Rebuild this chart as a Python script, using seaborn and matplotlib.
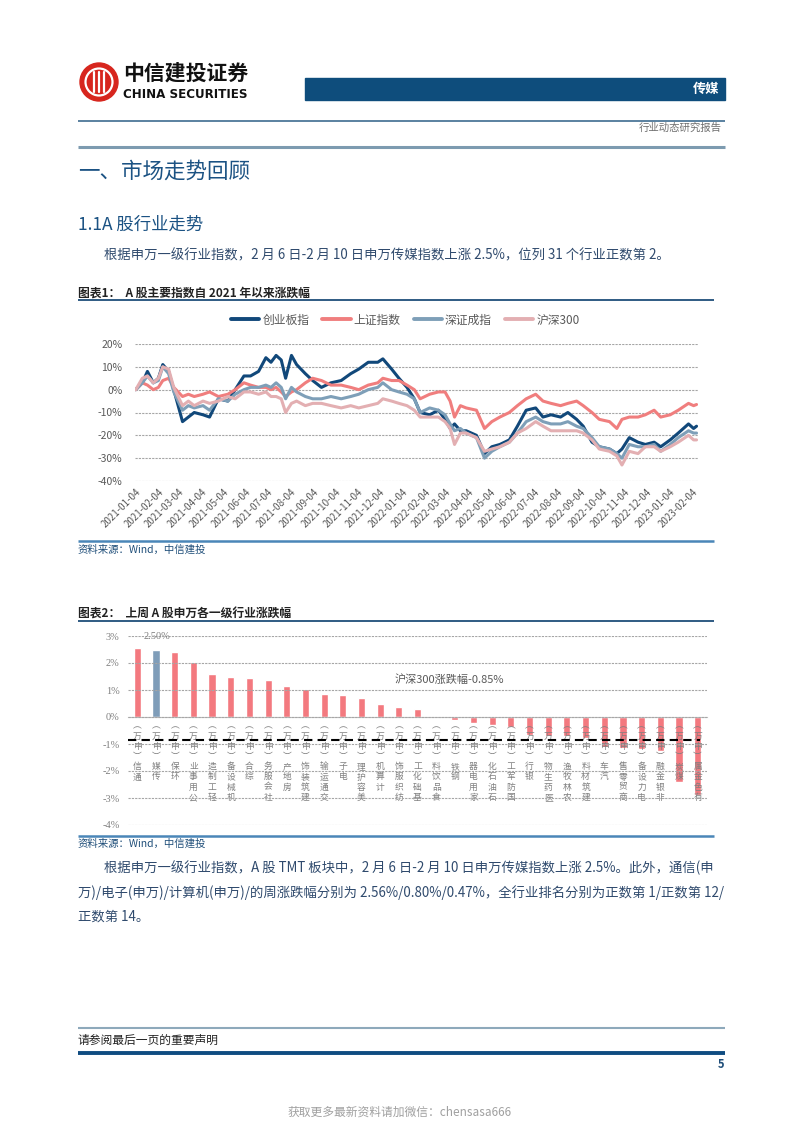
import numpy as np
import pandas as pd
import matplotlib
matplotlib.use('Agg')
import matplotlib.pyplot as plt
import matplotlib.patches as mpatches
import seaborn as sns

# ---- data: chart 1, cumulative change since 2021 (%) ----
dates = ['2021-01-04', '2021-01-13', '2021-01-20', '2021-01-28', '2021-02-04', '2021-02-10',
         '2021-02-18', '2021-02-25', '2021-03-09', '2021-03-17', '2021-03-25', '2021-04-06',
         '2021-04-15', '2021-04-27', '2021-05-10', '2021-05-20', '2021-06-01', '2021-06-10',
         '2021-06-21', '2021-07-01', '2021-07-08', '2021-07-15', '2021-07-22', '2021-07-28',
         '2021-08-05', '2021-08-12', '2021-08-24', '2021-09-03', '2021-09-15', '2021-09-28',
         '2021-10-12', '2021-10-25', '2021-11-05', '2021-11-18', '2021-12-01', '2021-12-08',
         '2021-12-20', '2021-12-30', '2022-01-10', '2022-01-20', '2022-01-28', '2022-02-10',
         '2022-02-22', '2022-03-03', '2022-03-10', '2022-03-16', '2022-03-24', '2022-04-01',
         '2022-04-15', '2022-04-26', '2022-05-06', '2022-05-17', '2022-05-30', '2022-06-10',
         '2022-06-22', '2022-07-05', '2022-07-15', '2022-07-26', '2022-08-08', '2022-08-18',
         '2022-08-30', '2022-09-08', '2022-09-20', '2022-09-30', '2022-10-14', '2022-10-24',
         '2022-10-31', '2022-11-10', '2022-11-22', '2022-12-02', '2022-12-14', '2022-12-23',
         '2023-01-05', '2023-01-16', '2023-01-30', '2023-02-06', '2023-02-10']

chinext = [0, 3, 8, 3, 5, 11, 8, 0, -14, -12, -10, -11, -12, -4, -5, 0, 6, 6, 8, 14,
           12, 15, 13, 5, 15, 11, 7, 4, 1, 3, 4, 7, 9, 12, 12, 13.5, 9, 5, 1, -4,
           -10, -11, -9, -13, -17, -15, -18, -18, -20, -28, -25, -24, -22, -16, -9, -8, -12, -11, -12, -10,
           -13, -16, -23, -25, -26, -28, -26, -21, -23, -24, -23, -25, -22, -19, -15, -17, -16]
sse = [0, 3, 2, 0, 1, 4, 5, 1, -3, -2, -3, -2, -1, -3, -2, 0, 3, 2, 1, 1,
       0, 1, -1, -3, -1, 0, 3, 5, 4, 2, 2, 1, 0, 2, 3, 5, 4, 4, 2, 0,
       -4, -2, -1, -1, -5, -12, -7, -8, -9, -17, -14, -12, -10, -7, -4, -2, -5, -6, -7, -6,
       -5, -7, -10, -13, -14, -17, -13, -12, -12, -11, -9, -12, -11, -9, -6, -7, -6.5]
szse = [0, 3, 6, 3, 4, 10, 7, -1, -9, -7, -8, -7, -9, -4, -5, -2, 0, 1, 1, 2,
        1, 3, 1, -4, 1, -1, -3, -4, -4, -3, -4, -3, -2, 0, 1, 3, 0, -1, -2, -4,
        -10, -8, -9, -11, -15, -18, -17, -19, -21, -30, -27, -25, -23, -19, -14, -12, -14, -15, -15, -14,
        -16, -17, -21, -25, -26, -28, -30, -24, -25, -25, -24, -27, -24, -21, -18, -19, -19]
csi300 = [0, 5, 6, 3, 5, 10, 9, 1, -7, -5, -7, -5, -6, -5, -3, -4, -1, -1, -2, -1,
          -3, -3, -4, -10, -6, -5, -7, -6, -6, -7, -8, -7, -8, -7, -6, -4, -5, -6, -7, -9,
          -12, -12, -12, -14, -17, -24, -19, -19, -21, -27, -26, -25, -23, -19, -17, -14, -16, -18, -18, -18,
          -18, -19, -22, -26, -27, -29, -33, -27, -28, -25, -25, -27, -25, -23, -20, -22, -22]
series_names = ['创业板指', '上证指数', '深证成指', '沪深300']
series_colors = ['#11487A', '#F07E7E', '#7E9FB8', '#E3AFB2']
month_ticks = pd.date_range('2021-01-01', '2023-02-01', freq='MS') + pd.Timedelta(days=3)
y1_ticks = [20, 10, 0, -10, -20, -30, -40]

# ---- data: chart 2, weekly change of SW level-1 industries (%) ----
industries = ['通信', '传媒', '环保', '公用事业', '轻工制造', '机械设备', '综合', '社会服务',
              '房地产', '建筑装饰', '交通运输', '电子', '美容护理', '计算机', '纺织服饰', '基础化工',
              '食品饮料', '钢铁', '家用电器', '石油石化', '国防军工', '银行', '医药生物', '农林牧渔',
              '建筑材料', '汽车', '商贸零售', '电力设备', '非银金融', '煤炭', '有色金属']
weekly_chg = [2.56, 2.50, 2.40, 2.03, 1.58, 1.47, 1.43, 1.38, 1.13, 1.05, 0.87, 0.80, 0.71,
              0.47, 0.37, 0.30, -0.03, -0.10, -0.23, -0.28, -0.38, -0.65, -0.70, -0.72, -0.78,
              -1.10, -1.15, -1.18, -1.25, -2.40, -2.90]
hs300_chg = -0.85
media_label = '2.50%'
y2_ticks = [3, 2, 1, 0, -1, -2, -3, -4]

W, H = 802, 1133
sns.set_theme(style='white')
plt.rcParams['font.family'] = ['Noto Sans CJK SC', 'DejaVu Sans']
plt.rcParams['axes.unicode_minus'] = False

fig = plt.figure(figsize=(W / 100, H / 100), dpi=100)
fig.patch.set_facecolor('white')


def px_axes(l, t, r, b):
    return fig.add_axes([l / W, 1 - b / H, (r - l) / W, (b - t) / H])


# overlay in pixel units for page decoration
page = fig.add_axes([0, 0, 1, 1])
page.set_xlim(0, W)
page.set_ylim(H, 0)
page.axis('off')


def hline(y, x0, x1, color, lw):
    page.plot([x0, x1], [y, y], color=color, lw=lw, solid_capstyle='butt')


def txt(x, y, s, **kw):
    kw.setdefault('va', 'center')
    page.text(x, y, s, **kw)


# ---- header ----
page.add_patch(mpatches.Circle((99, 82), 19, color='#D7261E'))
page.add_patch(mpatches.Circle((99, 82), 13.5, fill=False, ec='white', lw=1.6))
for dx in (-5, 0, 5):
    page.plot([99 + dx, 99 + dx], [72, 92], color='white', lw=1.6)
txt(123, 73, '中信建投证券', fontsize=15, weight='bold', color='#111111')
txt(123, 94, 'CHINA SECURITIES', fontsize=8.6, weight='bold', color='#111111',
    family=['Liberation Sans Narrow', 'DejaVu Sans'])
page.add_patch(mpatches.Rectangle((305, 78), 420, 22, color='#0E4D7C'))
txt(719, 89, '传媒', fontsize=9.5, weight='bold', color='white', ha='right')
hline(121, 78, 725, '#2E5F86', 1.1)
txt(722, 128, '行业动态研究报告', fontsize=7.5, color='#6F6F6F', ha='right')
hline(147, 78, 725, '#7D9BB0', 2.2)

# ---- section text ----
body = '#2F4A6D'
txt(78, 172, '一、市场走势回顾', fontsize=15.5, color='#1B5283')
txt(78, 225, '1.1A 股行业走势', fontsize=12.5, color='#1B5283')
txt(104, 255, '根据申万一级行业指数，2 月 6 日-2 月 10 日申万传媒指数上涨 2.5%，位列 31 个行业正数第 2。',
    fontsize=9.6, color=body)
txt(78, 293, '图表1：  A 股主要指数自 2021 年以来涨跌幅', fontsize=8.5, weight='bold', color='#222222')
hline(300, 78, 714, '#1F4E79', 1.3)

# ---- chart 1: index lines ----
ax1 = px_axes(135, 344, 698, 481)
frames = []
for name, vals in zip(series_names, [chinext, sse, szse, csi300]):
    frames.append(pd.DataFrame({'date': pd.to_datetime(dates), 'value': vals, 'series': name}))
df1 = pd.concat(frames, ignore_index=True)
sns.lineplot(data=df1, x='date', y='value', hue='series', hue_order=series_names,
             palette=series_colors, linewidth=2.2, ax=ax1)
ax1.set_ylim(-40, 20)
ax1.set_yticks(y1_ticks)
ax1.set_yticklabels([f'{v}%' for v in y1_ticks])
ax1.set_xlim(pd.Timestamp('2021-01-03'), pd.Timestamp('2023-02-12'))
ax1.set_xticks(month_ticks)
ax1.set_xticklabels([d.strftime('%Y-%m-%d') for d in month_ticks], rotation=45, ha='right',
                    rotation_mode='anchor')
ax1.set_xlabel('')
ax1.set_ylabel('')
ax1.grid(axis='y', color='#A6A6A6', linestyle=(0, (2, 1)), lw=0.8)
ax1.set_axisbelow(True)
for s in ax1.spines.values():
    s.set_visible(False)
ax1.tick_params(axis='y', length=0, pad=9, labelsize=7.5, labelcolor='#595959')
ax1.tick_params(axis='x', length=0, pad=4, labelsize=7, labelcolor='#595959')
ax1.legend(loc='lower center', bbox_to_anchor=(0.48, 1.05), ncol=4, frameon=False,
           fontsize=8.5, handlelength=2.4, handletextpad=0.25, columnspacing=1.1,
           labelcolor='#595959')
for line in ax1.get_legend().get_lines():
    line.set_linewidth(2.8)

hline(541, 78, 714, '#4A86B8', 1.8)
txt(78, 550, '资料来源：Wind，中信建投', fontsize=7.5, color='#1F4E79', style='italic')

# ---- chart 2: industry bars ----
txt(78, 614, '图表2：  上周 A 股申万各一级行业涨跌幅', fontsize=8.5, weight='bold', color='#222222')
hline(621, 78, 714, '#1F4E79', 1.3)

ax2 = px_axes(128, 636, 707, 825)
bar_colors = ['#7F9DB9' if n == '传媒' else '#F3797F' for n in industries]
df2 = pd.DataFrame({'industry': industries, 'chg': weekly_chg})
sns.barplot(data=df2, x='industry', y='chg', hue='industry', palette=bar_colors,
            legend=False, width=0.38, saturation=1, ax=ax2)
ax2.set_ylim(-4, 3)
ax2.set_xlim(-0.5, len(industries) - 0.5)
ax2.set_yticks(y2_ticks)
ax2.set_yticklabels([f'{v}%' for v in y2_ticks], family=['Liberation Serif', 'DejaVu Serif'])
ax2.grid(axis='y', color='#A6A6A6', linestyle=(0, (2, 1)), lw=0.8)
ax2.set_axisbelow(False)
for k, s in ax2.spines.items():
    s.set_visible(False)
ax2.spines['bottom'].set_visible(True)
ax2.spines['bottom'].set_position(('data', 0))
ax2.spines['bottom'].set_color('#BFBFBF')
ax2.spines['bottom'].set_linewidth(0.8)

paren = {'(': '︶', ')': '︵'}


def stack_label(name):
    # vertical label, read bottom-to-top like the original
    s = name + '(申万)'
    return '\n'.join(paren.get(c, c) for c in reversed(s))


ax2.set_xticks(range(len(industries)))
ax2.set_xticklabels([stack_label(n) for n in industries], linespacing=1.18)
ax2.tick_params(axis='x', length=0, pad=3, labelsize=6.3, labelcolor='#7F7F7F')
ax2.tick_params(axis='y', length=0, pad=6, labelsize=7.5, labelcolor='#7F7F7F')
ax2.set_xlabel('')
ax2.set_ylabel('')
ax2.hlines(hs300_chg, -0.5, len(industries) - 0.9, colors='black', linestyles=(0, (4, 2.5)),
           lw=1.5, zorder=4)
ax2.text(13.8, 1.37, f'沪深300涨跌幅{hs300_chg:.2f}%', fontsize=8, color='#595959', va='center')
ax2.text(1.05, 2.97, media_label, fontsize=7.5, color='#7F7F7F', va='center', ha='center',
         family=['Liberation Serif', 'DejaVu Serif'])

hline(836, 78, 714, '#4A86B8', 1.8)
txt(78, 844, '资料来源：Wind，中信建投', fontsize=7.5, color='#1F4E79', style='italic')

# ---- second paragraph ----
txt(104, 868, '根据申万一级行业指数，A 股 TMT 板块中，2 月 6 日-2 月 10 日申万传媒指数上涨 2.5%。此外，通信(申',
    fontsize=9.6, color=body)
txt(78, 893, '万)/电子(申万)/计算机(申万)/的周涨跌幅分别为 2.56%/0.80%/0.47%，全行业排名分别为正数第 1/正数第 12/',
    fontsize=9.6, color=body)
txt(78, 917, '正数第 14。', fontsize=9.6, color=body)

# ---- footer ----
hline(1028, 78, 725, '#8EA9BB', 1.5)
txt(78, 1040, '请参阅最后一页的重要声明', fontsize=8.5, color='#222222')
hline(1053, 78, 725, '#0F4C81', 2.8)
txt(724, 1064, '5', fontsize=8, color='#1F4E79', weight='bold', ha='right')
txt(400, 1112, '获取更多最新资料请加微信：chensasa666', fontsize=8.5, color='#A0A0A0', ha='center')

fig.savefig('out.png', dpi=100)
